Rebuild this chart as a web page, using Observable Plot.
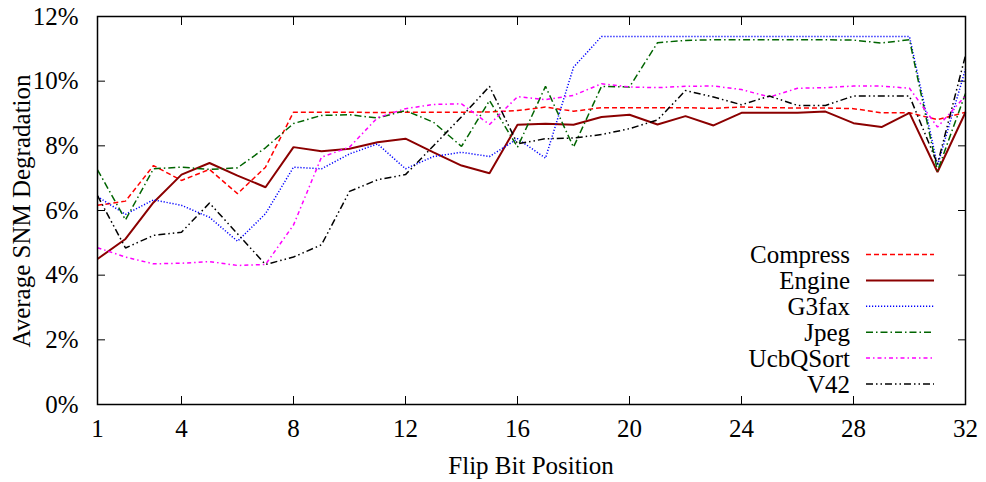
<!DOCTYPE html>
<html>
<head>
<meta charset="utf-8">
<script src="https://cdn.jsdelivr.net/npm/d3@7"></script>
<script src="https://cdn.jsdelivr.net/npm/@observablehq/plot@0.6"></script>
<style>
  html, body { margin: 0; padding: 0; background: #fff; }
  #chart { position: relative; width: 986px; height: 482px; font-family: "Liberation Serif", "DejaVu Serif", serif; }
  .title { position: absolute; font-size: 25px; color: #000; white-space: nowrap; }
  #xtitle { left: 531px; top: 466px; transform: translate(-50%, -50%); }
  #ytitle { left: 22px; top: 211px; transform: translate(-50%, -50%) rotate(-90deg); }
  #legend { position: absolute; left: 0; top: 0; pointer-events: none; }
</style>
</head>
<body>
<div id="chart">
  <div class="title" id="xtitle">Flip Bit Position</div>
  <div class="title" id="ytitle">Average SNM Degradation</div>
</div>
<script>
// Flip bit position 1..32
const positions = d3.range(1, 33);

// Average SNM degradation (%) for each benchmark
const compress = [6.16, 6.29, 7.39, 6.93, 7.27, 6.52, 7.34, 9.04, 9.04, 9.04, 9.03, 9.04, 9.04, 9.04, 9.05, 9.09,
                  9.20, 9.07, 9.18, 9.18, 9.18, 9.18, 9.16, 9.20, 9.18, 9.17, 9.17, 9.15, 9.02, 9.02, 8.81, 9.04];
const engine   = [4.50, 5.12, 6.25, 7.11, 7.47, 7.08, 6.72, 7.96, 7.83, 7.91, 8.11, 8.22, 7.80, 7.39, 7.15, 8.65,
                  8.68, 8.65, 8.89, 8.96, 8.66, 8.92, 8.63, 9.02, 9.02, 9.02, 9.06, 8.70, 8.58, 9.02, 7.19, 9.04];
const g3fax    = [6.43, 5.88, 6.33, 6.16, 5.79, 5.05, 5.90, 7.34, 7.29, 7.75, 8.06, 7.29, 7.67, 7.80, 7.67, 8.22,
                  7.62, 10.43, 11.38, 11.38, 11.38, 11.38, 11.38, 11.38, 11.38, 11.38, 11.38, 11.38, 11.38, 11.38, 7.39, 10.38];
const jpeg     = [7.26, 5.71, 7.29, 7.34, 7.27, 7.32, 7.94, 8.69, 8.94, 8.96, 8.86, 9.09, 8.73, 7.98, 9.40, 7.96,
                  9.84, 7.96, 9.84, 9.82, 11.19, 11.26, 11.28, 11.28, 11.28, 11.28, 11.28, 11.27, 11.18, 11.28, 7.22, 9.62];
const ucbqsort = [4.85, 4.56, 4.35, 4.37, 4.42, 4.30, 4.33, 5.55, 7.65, 7.96, 8.87, 9.15, 9.28, 9.30, 8.66, 9.52,
                  9.43, 9.56, 9.92, 9.82, 9.80, 9.84, 9.85, 9.74, 9.51, 9.78, 9.80, 9.85, 9.85, 9.78, 8.58, 9.55];
const v42      = [6.46, 4.84, 5.23, 5.33, 6.23, 5.28, 4.33, 4.56, 4.94, 6.59, 6.95, 7.11, 8.00, 8.90, 9.84, 8.06,
                  8.22, 8.24, 8.35, 8.53, 8.80, 9.71, 9.51, 9.27, 9.54, 9.25, 9.25, 9.54, 9.54, 9.54, 7.44, 10.80];

const seriesNames = ["Compress", "Engine", "G3fax", "Jpeg", "UcbQSort", "V42"];
const seriesValues = [compress, engine, g3fax, jpeg, ucbqsort, v42];

// Axis ticks
const xTicks = [1, 4, 8, 12, 16, 20, 24, 28, 32];
const yTicks = [0, 2, 4, 6, 8, 10, 12];

// Line styles per benchmark
const styles = {
  Compress: {stroke: "#ff0000", strokeWidth: 1.5, dash: "5,3"},
  Engine:   {stroke: "#8b0000", strokeWidth: 2,   dash: null},
  G3fax:    {stroke: "#0000ff", strokeWidth: 1.5, dash: "1.2,1.8"},
  Jpeg:     {stroke: "#006400", strokeWidth: 1.5, dash: "7,3,1.5,3"},
  UcbQSort: {stroke: "#ff00ff", strokeWidth: 1.5, dash: "4,3,1.5,3"},
  V42:      {stroke: "#000000", strokeWidth: 1.5, dash: "7,3,1.5,3,1.5,3"}
};

const tables = seriesNames.map((name, i) =>
  positions.map((x, j) => ({series: name, x, y: seriesValues[i][j]}))
);

const inner = (ticks) => ticks.slice(1, -1);
const blank = () => "";

const plot = Plot.plot({
  width: 986,
  height: 482,
  marginLeft: 97,
  marginRight: 21,
  marginTop: 16,
  marginBottom: 78,
  style: {fontFamily: "'Liberation Serif', serif", fontSize: "25px", color: "#000", background: "#fff"},
  x: {domain: [1, 32]},
  y: {domain: [0, 12]},
  marks: [
    // tick labels
    Plot.axisX(xTicks, {anchor: "bottom", tickSize: 0, tickPadding: 15, label: null, fontSize: 25}),
    Plot.axisY(yTicks, {anchor: "left", tickSize: 0, tickPadding: 19, tickFormat: d => d + "%", label: null, fontSize: 25}),
    // inward tick marks on all four sides
    Plot.axisX(inner(xTicks), {anchor: "bottom", tickSize: -8, tickFormat: blank, label: null}),
    Plot.axisX(inner(xTicks), {anchor: "top", tickSize: -8, tickFormat: blank, label: null}),
    Plot.axisY(inner(yTicks), {anchor: "left", tickSize: -8, tickFormat: blank, label: null}),
    Plot.axisY(inner(yTicks), {anchor: "right", tickSize: -8, tickFormat: blank, label: null}),
    ...tables.map((rows, i) => {
      const s = styles[seriesNames[i]];
      return Plot.line(rows, {
        x: "x", y: "y",
        stroke: s.stroke, strokeWidth: s.strokeWidth,
        strokeDasharray: s.dash, strokeLinejoin: "miter", strokeLinecap: "butt"
      });
    }),
    Plot.frame({stroke: "#000", strokeWidth: 1.5})
  ]
});

const chart = document.getElementById("chart");
chart.prepend(plot);

// Key box in the lower right of the plot area
const legend = d3.select(chart).append("svg")
  .attr("id", "legend")
  .attr("width", 986).attr("height", 482);
const rowTop = 254.5, rowStep = 25.9;
seriesNames.forEach((name, i) => {
  const s = styles[name];
  const y = rowTop + i * rowStep;
  legend.append("text")
    .attr("x", 850).attr("y", y)
    .attr("text-anchor", "end").attr("dominant-baseline", "central")
    .attr("font-family", "'Liberation Serif', serif").attr("font-size", 25)
    .text(name);
  legend.append("line")
    .attr("x1", 866).attr("x2", 934).attr("y1", y).attr("y2", y)
    .attr("stroke", s.stroke).attr("stroke-width", s.strokeWidth)
    .attr("stroke-dasharray", s.dash);
});
</script>
</body>
</html>
